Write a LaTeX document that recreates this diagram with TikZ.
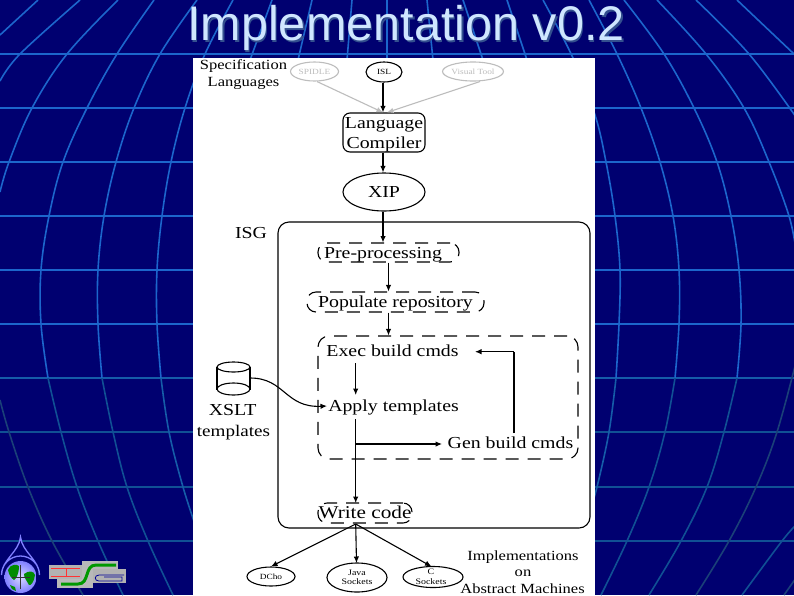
\documentclass[tikz,border=0pt]{standalone}
\usepackage{fontspec}
\usetikzlibrary{arrows.meta,shapes.geometric,calc}
\setmainfont{Liberation Serif}
\newfontfamily\dfont[FakeStretch=1.18]{Liberation Serif}
\newfontfamily\tfont{Liberation Sans}
\definecolor{bgnavy}{HTML}{000070}
\definecolor{gridA}{HTML}{1C66CC}
\definecolor{gridB}{HTML}{155CA8}
\definecolor{gridC}{HTML}{105094}
\definecolor{gridD}{HTML}{1A4078}
\definecolor{titlec}{HTML}{CFE6FF}
\definecolor{titles}{HTML}{34508F}
\definecolor{ghost}{HTML}{BDBDBD}
\newcommand{\fs}[1]{\fontsize{#1}{#1}\selectfont\dfont}
\tikzset{
  x=1pt,y=-1pt,
  mer/.style={line width=1.6pt,smooth,tension=0.6},
  lab/.style={inner sep=0pt,align=center,text=black},
  big/.style={lab,font=\fs{16.8},text height=11pt,text depth=3.5pt},
  mid/.style={lab,font=\fs{14},text height=10pt,text depth=3pt},
  tiny/.style={lab,font=\fs{8.4}},
  oval/.style={ellipse,draw=black,line width=1.1pt,inner sep=0pt},
  ghostoval/.style={ellipse,draw=ghost,line width=1.1pt,inner sep=0pt,text=ghost,font=\fs{7.9}},
  solidbox/.style={rectangle,rounded corners=7pt,draw=black,line width=1.1pt,inner sep=0pt},
  dashbox/.style={rectangle,rounded corners=9pt,draw=black,line width=1.1pt,dash pattern=on 13pt off 9pt,inner sep=0pt},
  conn/.style={draw=black,line width=1.1pt,-{Latex[length=6.5pt,width=5.5pt]}},
  ghostconn/.style={draw=ghost,line width=1.1pt,-{Latex[length=6.5pt,width=5.5pt]}},
  plainconn/.style={draw=black,line width=1.1pt},
}
\begin{document}
\begin{tikzpicture}
\useasboundingbox (0,0) rectangle (794,595);
\clip (0,0) rectangle (794,595);
% background
\fill[bgnavy] (0,0) rectangle (794,595);
\foreach \yy/\cc in {54/gridA,108/gridA,162/gridA,216/gridA,270/gridA,324/gridA,378/gridB,432/gridC,487/gridC,541/gridC}
  \draw[line width=1.6pt,\cc] (0,\yy) -- (794,\yy);
% meridians, left side
\draw[mer,gridA] plot coordinates {(38,0) (0,35)};
\draw[mer,gridA] plot coordinates {(80,0) (20,54) (0,81)};
\draw[mer,gridA] plot coordinates {(118,0) (67,54) (32,108) (9,162) (0,192)};
\draw[mer,gridD] plot coordinates {(0,400) (9,432) (28,487) (52,541) (83,595)};
\draw[mer,gridA] plot coordinates {(154,0) (117,54) (87,108) (63,162) (49,216) (41,270) (41,324) (48,378)};
\draw[mer,gridC] plot coordinates {(48,378) (61,432) (77,487) (98,541) (123,595)};
\draw[mer,gridA] plot coordinates {(197,0) (160,54) (134,108) (116,162) (104,216) (98,270) (98,324) (102,378)};
\draw[mer,gridC] plot coordinates {(102,378) (113,432) (127,487) (148,541) (173,595)};
\draw[mer,gridA] plot coordinates {(233,0) (205,54) (185,108) (171,162) (162,216) (157,270) (157,324) (161,378)};
\draw[mer,gridB] plot coordinates {(161,378) (169,432) (183,487) (197,530)};
% meridians, middle (behind the title)
\draw[mer,gridA] plot coordinates {(272,0) (250,60)};
\draw[mer,gridA] plot coordinates {(312,0) (298,60)};
\draw[mer,gridA] plot coordinates {(352,0) (347,60)};
\draw[mer,gridA] plot coordinates {(387,0) (387,60)};
\draw[mer,gridA] plot coordinates {(427,0) (433,60)};
\draw[mer,gridA] plot coordinates {(463,0) (483,60)};
\draw[mer,gridA] plot coordinates {(507,0) (527,60)};
% meridians, right side
\draw[mer,gridA] plot coordinates {(543,0) (573,58) (595,115) (606,162) (615,216) (620,270) (619,324) (616,378)};
\draw[mer,gridB] plot coordinates {(616,378) (609,432) (597,487) (590,510)};
\draw[mer,gridA] plot coordinates {(589,0) (617,54) (641,108) (660,162) (673,216) (679,270) (679,324) (675,378)};
\draw[mer,gridC] plot coordinates {(675,378) (665,432) (649,487) (627,541) (601,595)};
\draw[mer,gridA] plot coordinates {(624,0) (664,54) (694,108) (717,162) (731,216) (739,270) (741,324) (737,378)};
\draw[mer,gridC] plot coordinates {(737,378) (724,432) (707,487) (681,541) (649,595)};
\draw[mer,gridA] plot coordinates {(657,0) (706,54) (744,108) (769,162) (789,216) (796,250)};
\draw[mer,gridD] plot coordinates {(796,362) (777,432) (756,487) (729,541) (696,595)};
\draw[mer,gridA] plot coordinates {(696,0) (749,54) (796,117)};
\draw[mer,gridC] plot coordinates {(796,525) (782,541) (742,595)};
\draw[mer,gridA] plot coordinates {(737,0) (794,54)};
\draw[mer,gridD] plot coordinates {(796,578) (784,595)};
% globe logo
\draw[line width=1.3pt,draw=blue!50!white,fill=bgnavy] (20.5,537) .. controls (22,552) and (39.5,560) .. (39.5,575) arc[start angle=0,end angle=-180,radius=19] .. controls (1.5,560) and (19,552) .. (20.5,537) -- cycle;
\shade[inner color=blue!15!white,outer color=blue!50!white] (20.5,577) circle[radius=16];
\fill[green!55!black] (8,570) .. controls (10,564) and (17,564) .. (19,566) .. controls (19,574) and (16,579) .. (14,580) .. controls (11,578) and (9,575) .. (8,570) -- cycle;
\fill[green!55!black] (24,574) .. controls (29,570) and (34,571) .. (35,575) .. controls (34,582) and (31,586) .. (29,585) .. controls (27,581) and (24,578) .. (24,574) -- cycle;
\fill[green!55!black] (10,585) -- (15,587) -- (16,591) -- (12,589) -- cycle;
\draw[line width=0.5pt,gray!40!black] (20.5,565) -- (20.5,589) (12,577) -- (30,577);
% ISG logo
\fill[gray!55] (82,561) rectangle (118,570);
\fill[gray!55] (82,561) rectangle (93,587);
\fill[gray!55] (57,579) rectangle (93,588);
\fill[gray!60] (49,565) rectangle (82,579);
\fill[gray!60] (93,569) rectangle (126,583);
\draw[green!60!black,line width=3pt] (61,584) -- (78,584) .. controls (90,584) and (84,565) .. (96,565) -- (116,565);
\draw[red!80!white,line width=0.8pt] (51,568.5) -- (80,568.5) (51,576) -- (80,576) (66,568.5) -- (66,576);
\draw[blue!60!black,line width=0.8pt] (124,575) -- (99,575) .. controls (94,575) and (94,581) .. (99,581) -- (122,581) -- (122,577) -- (104,577);
% title
\node[inner sep=0pt,text=titles,font=\fontsize{48.6}{48.6}\selectfont\tfont] (titleshadow) at (407.5,29.5) {Implementation v0.2};
\node[inner sep=0pt,text=titlec,font=\fontsize{48.6}{48.6}\selectfont\tfont] (title) at (406,28) {Implementation v0.2};
% white sheet
\fill[white] (193,58) rectangle (595,595);
% language nodes
\node[mid] (spec) at (243.5,65.5) {Specification};
\node[mid] (langs) at (243.5,83) {Languages};
\node[ghostoval,minimum width=48pt,minimum height=19pt] (spidle) at (314.5,71.5) {SPIDLE};
\node[oval,minimum width=36pt,minimum height=20pt,font=\fs{7.9}] (isl) at (384,72) {ISL};
\node[ghostoval,minimum width=57pt,minimum height=19pt] (visual) at (473,71.5) {Visual Tool};
\node[solidbox,minimum width=82pt,minimum height=39pt] (compiler) at (384,132.5) {};
\node[big] (compilertext) at (384,125) {Language};
\node[big] (compilertextb) at (384,145) {Compiler};
\node[oval,minimum width=82pt,minimum height=38pt,font=\fs{16.8}] (xip) at (384,192) {XIP};
% ISG block
\node[rectangle,rounded corners=11pt,draw=black,line width=1.1pt,minimum width=312pt,minimum height=306pt,inner sep=0pt] (isg) at (434,375) {};
\node[big] (isglabel) at (251,234.5) {ISG};
\node[dashbox,minimum width=141pt,minimum height=19pt] (pre) at (388.5,252.5) {};
\node[big] (pretext) at (383,255) {Pre-processing};
\node[dashbox,minimum width=177pt,minimum height=20pt] (pop) at (395.5,302) {};
\node[big] (poptext) at (395.5,304) {Populate repository};
\node[dashbox,rounded corners=11pt,minimum width=260pt,minimum height=123pt] (build) at (448,397.5) {};
\node[big] (exec) at (392.5,353) {Exec build cmds};
\node[big] (apply) at (393.5,408) {Apply templates};
\node[big] (gen) at (510.5,445) {Gen build cmds};
\node[dashbox,minimum width=94pt,minimum height=20pt] (write) at (365,513) {};
\node[lab,font=\fs{18},text height=11pt,text depth=3.5pt] (writetext) at (365,515) {Write code};
% XSLT
\node[inner sep=0pt,minimum width=33pt,minimum height=33pt] (xslt) at (233.5,378) {};
\draw[line width=1.1pt] (217,367) -- (217,389.5) (250,367) -- (250,389.5);
\draw[line width=1.1pt] (233.5,367) ellipse[x radius=16.5,y radius=5];
\draw[line width=1.1pt] (233.5,389) ellipse[x radius=16.5,y radius=6];
\node[big] (xsltt) at (232.7,412) {XSLT};
\node[big,font=\fs{16.2}] (xslttb) at (233.5,433) {templates};
% targets
\node[oval,minimum width=48pt,minimum height=19pt,font=\fs{7.9}] (dcho) at (271,576.5) {DCho};
\node[oval,minimum width=60pt,minimum height=29pt] (java) at (357,577.5) {};
\node[tiny] (javat) at (357,572.5) {Java};
\node[tiny] (javatb) at (357,582) {Sockets};
\node[oval,minimum width=60pt,minimum height=21pt] (csock) at (433,577) {};
\node[tiny] (csockt) at (431,571.5) {C};
\node[tiny] (csocktb) at (431,582) {Sockets};
\node[mid] (impl) at (523,556.5) {Implementations};
\node[mid] (implb) at (523,573) {on};
\node[mid] (implc) at (522.5,589.5) {Abstract Machines};
% connectors
\coordinate (isgout) at (355.7,524);
\coordinate (branch) at (355.7,444);
\coordinate (genout) at (514,433);
\coordinate (execin) at (475,351.7);
\coordinate (corner) at (514,351.7);
\draw[ghostconn] (spidle.south) ++(2.5,0) -- ([xshift=-1pt]compiler.north);
\draw[ghostconn] (visual.south) ++(7,0) -- ([xshift=3pt]compiler.north);
\draw[conn] ([xshift=-1pt]isl.south) -- ([xshift=-1pt]compiler.north);
\draw[conn] ([xshift=-1pt]compiler.south) -- ([xshift=-1pt]xip.north);
\draw[conn] ([xshift=-1pt]xip.south) -- (383,242.5);
\draw[conn] (pre.south) -- (pre.south |- pop.north);
\draw[conn] (pre.south |- pop.south) -- (pre.south |- build.north);
\draw[conn] (355.7,363) -- (355.7,395);
\draw[conn] (xslt.east) .. controls (285,378) and (285,408) .. (327,406);
\draw[plainconn] (355.7,419) -- (branch);
\draw[conn] (branch) -- (355.7,503);
\draw[conn] (branch) -- (442,444);
\draw[plainconn] (genout) -- (corner);
\draw[conn] (corner) -- (execin);
\draw[conn] (isgout) -- (dcho.north);
\draw[conn] (isgout) -- (356.5,563);
\draw[conn] (isgout) -- (431.5,566.5);
\end{tikzpicture}
\end{document}
